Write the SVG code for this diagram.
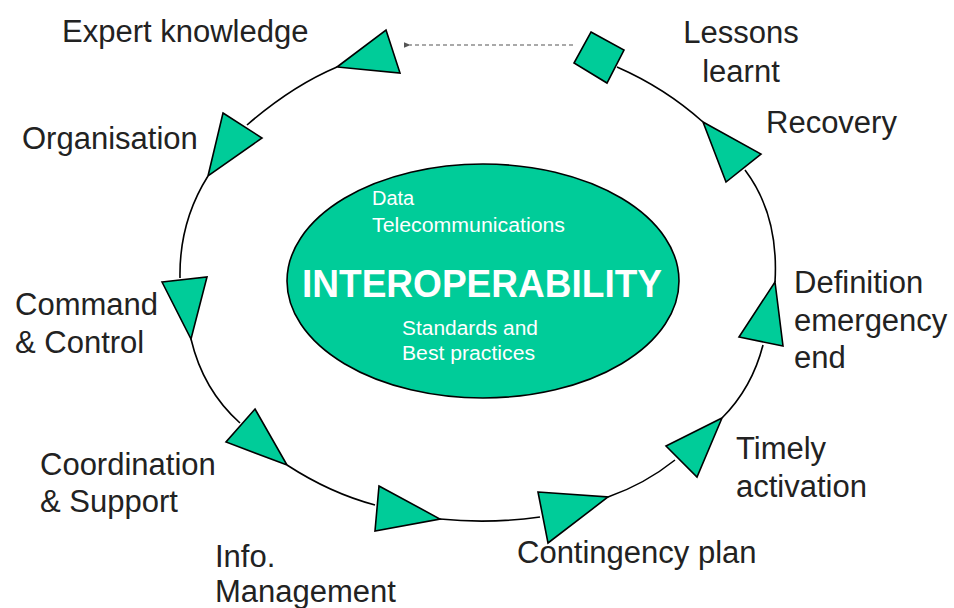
<svg xmlns="http://www.w3.org/2000/svg" width="954" height="608" viewBox="0 0 954 608">
<defs>
<style>
.lbl{font-family:"Liberation Sans",Arial,sans-serif;font-size:31px;fill:#222}
.in{font-family:"Liberation Sans",Arial,sans-serif;font-size:20px;fill:#fff}
.big{font-family:"Liberation Sans",Arial,sans-serif;font-size:38px;font-weight:bold;fill:#fff}
.tri{fill:#00CC99;stroke:#000;stroke-width:1.6;stroke-linejoin:miter}
.loop{fill:none;stroke:#000;stroke-width:1.6}
.dot{fill:none;stroke:#555;stroke-width:1.2;stroke-dasharray:4 3}
</style>
<marker id="ah" viewBox="0 0 10 10" refX="1" refY="5" markerWidth="7" markerHeight="7" orient="auto-start-reverse" markerUnits="userSpaceOnUse">
<path d="M0,5 L10,1 L10,9 Z" fill="#555"/>
</marker>
</defs>
<rect width="954" height="608" fill="#fff"/>
<g id="connectors">
<path class="loop" d="M337,67 Q292,86 247,125"/>
<path class="loop" d="M208,176 Q179,222 180,278"/>
<path class="loop" d="M191,339 Q203,390 240,423"/>
<path class="loop" d="M287,465 Q330,493 375,505"/>
<path class="loop" d="M440,519 Q490,524 540,517"/>
<path class="loop" d="M608,497 Q645,484 675,460"/>
<path class="loop" d="M722,418 Q752,388 763,345"/>
<path class="loop" d="M775,282 Q779,215 745,170"/>
<path class="loop" d="M703,122 Q665,88 617,67"/>
<path class="dot" d="M573,45 L410,45" marker-end="url(#ah)"/>
</g>
<g id="center">
<ellipse cx="483" cy="281" rx="196" ry="117" fill="#00CC99" stroke="#000" stroke-width="1.6"/>
<text class="in" x="372" y="205">Data</text>
<text class="in" x="372" y="232" textLength="193" lengthAdjust="spacingAndGlyphs">Telecommunications</text>
<text class="big" x="302" y="297" textLength="360" lengthAdjust="spacingAndGlyphs">INTEROPERABILITY</text>
<text class="in" x="402" y="335" textLength="136" lengthAdjust="spacingAndGlyphs">Standards and</text>
<text class="in" x="402" y="360" textLength="133" lengthAdjust="spacingAndGlyphs">Best practices</text>
</g>
<g id="expert-knowledge">
<polygon class="tri" points="386,30 400,73 337,67"/>
<text class="lbl" x="62" y="42">Expert knowledge</text>
</g>
<g id="organisation">
<polygon class="tri" points="223,113 262,138 208,176"/>
<text class="lbl" x="22" y="149">Organisation</text>
</g>
<g id="command-control">
<polygon class="tri" points="162,282 207,277 191,339"/>
<text class="lbl" x="15" y="315">Command</text>
<text class="lbl" x="15" y="353">&amp; Control</text>
</g>
<g id="coordination-support">
<polygon class="tri" points="255,409 287,465 226,442"/>
<text class="lbl" x="40" y="475">Coordination</text>
<text class="lbl" x="40" y="512">&amp; Support</text>
</g>
<g id="info-management">
<polygon class="tri" points="379,486 440,519 375,531"/>
<text class="lbl" x="215" y="567">Info.</text>
<text class="lbl" x="215" y="602">Management</text>
</g>
<g id="contingency-plan">
<polygon class="tri" points="538,492 608,497 548,543"/>
<text class="lbl" x="517" y="563">Contingency plan</text>
</g>
<g id="timely-activation">
<polygon class="tri" points="722,418 697,477 666,446"/>
<text class="lbl" x="736" y="459">Timely</text>
<text class="lbl" x="736" y="497">activation</text>
</g>
<g id="definition-emergency-end">
<polygon class="tri" points="775,282 783,346 739,337"/>
<text class="lbl" x="794" y="293">Definition</text>
<text class="lbl" x="794" y="331">emergency</text>
<text class="lbl" x="794" y="368">end</text>
</g>
<g id="recovery">
<polygon class="tri" points="703,122 761,154 726,182"/>
<text class="lbl" x="766" y="133">Recovery</text>
</g>
<g id="lessons-learnt">
<polygon class="tri" points="591,32 624,50 607,83 574,63"/>
<text class="lbl" x="741" y="43" text-anchor="middle">Lessons</text>
<text class="lbl" x="741" y="82" text-anchor="middle">learnt</text>
</g>
</svg>
